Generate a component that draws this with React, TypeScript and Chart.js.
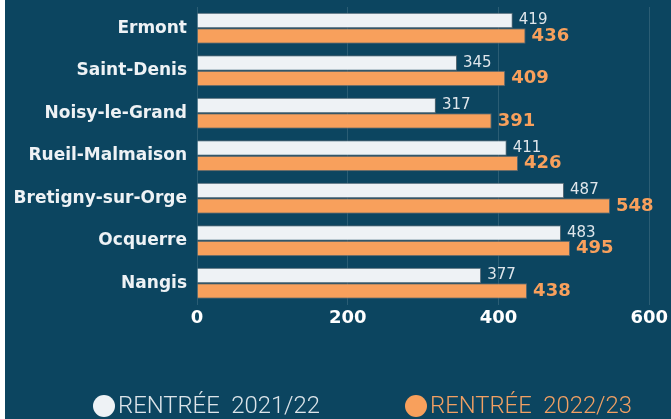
import React, { useEffect, useRef } from 'react';
import { Chart, registerables } from 'chart.js';

Chart.register(...registerables);

const categories = ['Ermont', 'Saint-Denis', 'Noisy-le-Grand', 'Rueil-Malmaison', 'Bretigny-sur-Orge', 'Ocquerre', 'Nangis'];
const rentree2122 = [419, 345, 317, 411, 487, 483, 377];
const rentree2223 = [436, 409, 391, 426, 548, 495, 438];
const seriesLabels = ['RENTRÉE  2021/22', 'RENTRÉE  2022/23'];
const xMin = 0;
const xMax = 600;
const xStep = 200;

const BG = '#0c4560';
const WHITE = '#eef2f5';
const ORANGE = '#f8a05c';

export default function App() {
  const ref = useRef<HTMLCanvasElement>(null);

  useEffect(() => {
    if (!ref.current) return;

    const bgPlugin = {
      id: 'bg',
      beforeDraw(chart: any) {
        const { ctx, width, height } = chart;
        ctx.save();
        ctx.fillStyle = '#ffffff';
        ctx.fillRect(0, 0, width, height);
        ctx.fillStyle = BG;
        ctx.fillRect(5, 0, width - 5, height);
        ctx.restore();
      },
    };

    const valuePlugin = {
      id: 'values',
      afterDatasetsDraw(chart: any) {
        const { ctx } = chart;
        ctx.save();
        ctx.textBaseline = 'middle';
        ctx.textAlign = 'left';
        chart.data.datasets.forEach((ds: any, i: number) => {
          const meta = chart.getDatasetMeta(i);
          ctx.font = i === 0 ? '15px "DejaVu Sans"' : 'bold 18px "DejaVu Sans"';
          ctx.fillStyle = i === 0 ? '#dfe6eb' : ORANGE;
          meta.data.forEach((el: any, j: number) => {
            ctx.fillText(String(ds.data[j]), el.x + 6, el.y);
          });
        });
        ctx.restore();
      },
    };

    const legendPlugin = {
      id: 'customLegend',
      afterDraw(chart: any) {
        const { ctx } = chart;
        ctx.save();
        ctx.font = '300 24px Roboto';
        ctx.textBaseline = 'middle';
        ctx.textAlign = 'left';
        const y = 406;
        const r = 11;
        const targetTextWidth = 202;
        let x = 93;
        const colors = [WHITE, ORANGE];
        const textColors = ['#dde5ea', '#f2a063'];
        seriesLabels.forEach((label, i) => {
          ctx.fillStyle = colors[i];
          ctx.beginPath();
          ctx.arc(x + r, y, r, 0, Math.PI * 2);
          ctx.fill();
          ctx.fillStyle = textColors[i];
          const tx = x + 2 * r + 3;
          const w = ctx.measureText(label).width;
          const sx = targetTextWidth / w;
          ctx.save();
          ctx.translate(tx, y + 1);
          ctx.scale(sx, 1);
          ctx.fillText(label, 0, 0);
          ctx.restore();
          x = tx + targetTextWidth + 85;
        });
        ctx.restore();
      },
    };

    const chart = new Chart(ref.current, {
      type: 'bar',
      data: {
        labels: categories,
        datasets: [
          {
            label: seriesLabels[0],
            data: rentree2122,
            backgroundColor: WHITE,
            borderColor: 'rgba(90,105,115,0.9)',
            borderWidth: 1,
            categoryPercentage: 0.73,
            barPercentage: 1,
          },
          {
            label: seriesLabels[1],
            data: rentree2223,
            backgroundColor: ORANGE,
            borderColor: 'rgba(90,105,115,0.9)',
            borderWidth: 1,
            categoryPercentage: 0.73,
            barPercentage: 1,
          },
        ],
      },
      options: {
        indexAxis: 'y',
        responsive: false,
        animation: false,
        devicePixelRatio: 1,
        layout: { padding: { top: 7, right: 20, left: 0, bottom: 0 } },
        plugins: {
          legend: { display: false },
          tooltip: { enabled: false },
        },
        scales: {
          x: {
            type: 'linear',
            min: xMin,
            max: xMax,
            ticks: {
              stepSize: xStep,
              color: '#ffffff',
              font: { family: 'DejaVu Sans', weight: 'bold', size: 18 },
              padding: 3,
            },
            grid: { color: 'rgba(255,255,255,0.13)', drawTicks: false },
            border: { display: false },
            afterFit(s: any) {
              s.height = 114.5;
            },
          },
          y: {
            ticks: {
              color: WHITE,
              font: { family: 'DejaVu Sans', weight: 'bold', size: 17 },
              padding: 2,
            },
            grid: { display: false },
            border: { display: false },
            afterFit(s: any) {
              s.width = 197;
              s.paddingTop = 0;
              s.paddingBottom = 0;
            },
          },
        },
      },
      plugins: [bgPlugin, valuePlugin, legendPlugin],
    } as any);

    return () => chart.destroy();
  }, []);

  return (
    <div style={{ position: 'fixed', left: 0, top: 0, width: 671, height: 419 }}>
      <canvas ref={ref} width={671} height={419} style={{ display: 'block', width: 671, height: 419 }} />
    </div>
  );
}
